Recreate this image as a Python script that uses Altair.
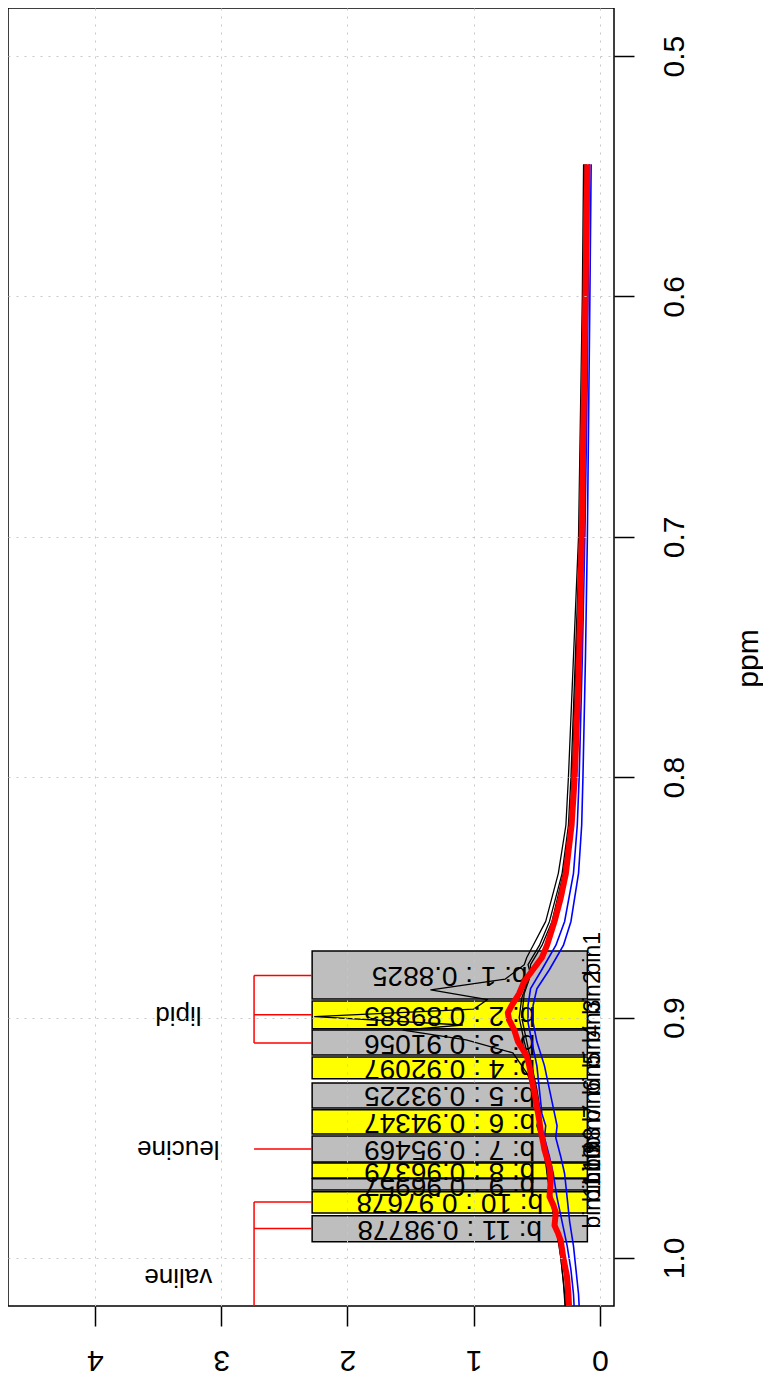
import altair as alt
import pandas as pd

FONT = "Liberation Sans"

# ---- bins (ppm) ----
bin_start = [0.8723, 0.8931, 0.9052, 0.9164, 0.9272, 0.9384, 0.9493, 0.9605, 0.9671, 0.9725, 0.9825]
bin_end = [0.8923, 0.9047, 0.9156, 0.9255, 0.9376, 0.9484, 0.9601, 0.9667, 0.9717, 0.9813, 0.9933]
bin_center = [0.8825, 0.89885, 0.91056, 0.92097, 0.93225, 0.94347, 0.95469, 0.96379, 0.96957, 0.97678, 0.98778]
bin_fill = ["#BEBEBE", "#FFFF00", "#BEBEBE", "#FFFF00", "#BEBEBE", "#FFFF00",
            "#BEBEBE", "#FFFF00", "#BEBEBE", "#FFFF00", "#BEBEBE"]
box_low, box_high = 0.10, 2.28
bin_names = ["bin%d" % (i + 1) for i in range(len(bin_center))]
bin_labels = ["b: %d : %s" % (i + 1, ("%g" % c)) for i, c in enumerate(bin_center)]

# ---- annotations ----
ann_names = ["lipid", "leucine", "valine"]
ann_ppm = [0.89885, 0.95469, 1.008]
ann_int = 3.34
bracket_x = 2.74
bracket_bins = [[0.8825, 0.89885, 0.91056], [0.95469], [0.97678, 0.98778]]
bracket_extent = [[0.8825, 0.91056], None, [0.97678, 1.04]]

# ---- spectra (ppm, intensity) ----
red_ppm = [0.545, 0.60, 0.65, 0.70, 0.75, 0.78, 0.80, 0.82, 0.84, 0.85,
           0.86, 0.87, 0.875, 0.88, 0.885, 0.89, 0.895, 0.898, 0.901, 0.905,
           0.91, 0.916, 0.92, 0.926, 0.931, 0.937, 0.943, 0.947, 0.952, 0.955,
           0.962, 0.968, 0.9745, 0.978, 0.981, 0.9865, 0.99, 0.993, 1.0, 1.008,
           1.015, 1.025]
red_int = [0.10, 0.115, 0.13, 0.145, 0.165, 0.185, 0.20, 0.225, 0.27, 0.31,
           0.36, 0.42, 0.46, 0.53, 0.60, 0.64, 0.70, 0.73, 0.72, 0.68,
           0.65, 0.58, 0.56, 0.54, 0.52, 0.50, 0.48, 0.47, 0.45, 0.44,
           0.40, 0.39, 0.40, 0.37, 0.35, 0.36, 0.33, 0.31, 0.29, 0.26,
           0.25, 0.24]

blue1_ppm = [0.545, 0.60, 0.65, 0.70, 0.75, 0.80, 0.82, 0.84, 0.86, 0.87,
             0.88, 0.888, 0.895, 0.902, 0.91, 0.92, 0.93, 0.94, 0.945, 0.95,
             0.958, 0.965, 0.975, 0.985, 0.995, 1.005, 1.015, 1.025]
blue1_int = [0.085, 0.095, 0.105, 0.12, 0.14, 0.165, 0.18, 0.21, 0.28, 0.35,
             0.46, 0.55, 0.57, 0.57, 0.54, 0.50, 0.48, 0.46, 0.43, 0.44,
             0.40, 0.37, 0.34, 0.30, 0.26, 0.23, 0.21, 0.20]

blue2_ppm = [0.545, 0.60, 0.65, 0.70, 0.75, 0.80, 0.82, 0.84, 0.86, 0.87,
             0.88, 0.888, 0.895, 0.902, 0.91, 0.92, 0.93, 0.94, 0.945, 0.95,
             0.958, 0.965, 0.975, 0.985, 0.995, 1.005, 1.015, 1.025]
blue2_int = [0.07, 0.08, 0.09, 0.10, 0.115, 0.135, 0.145, 0.17, 0.23, 0.29,
             0.40, 0.50, 0.53, 0.53, 0.50, 0.44, 0.40, 0.36, 0.34, 0.35,
             0.31, 0.28, 0.26, 0.24, 0.21, 0.19, 0.17, 0.16]

black1_ppm = [0.545, 0.60, 0.70, 0.80, 0.82, 0.84, 0.86, 0.87, 0.875, 0.878,
              0.884, 0.8885, 0.8925, 0.8965, 0.8996, 0.9031, 0.9052, 0.9093, 0.9147, 0.923,
              0.93, 0.94, 0.95, 0.96, 0.97, 0.98, 0.99, 1.0, 1.01, 1.025]
black1_int = [0.13, 0.14, 0.17, 0.25, 0.27, 0.33, 0.43, 0.53, 0.58, 0.60,
              0.75, 1.34, 0.89, 1.00, 2.26, 1.09, 1.56, 1.06, 0.69, 0.58,
              0.52, 0.50, 0.47, 0.43, 0.40, 0.37, 0.34, 0.31, 0.29, 0.27]

black2_ppm = [0.545, 0.60, 0.70, 0.80, 0.82, 0.84, 0.86, 0.87, 0.878, 0.882,
              0.886, 0.892, 0.90, 0.91, 0.92, 0.93, 0.94, 0.945, 0.95, 0.955,
              0.965, 0.975, 0.985, 0.995, 1.005, 1.015, 1.025]
black2_int = [0.12, 0.13, 0.16, 0.23, 0.25, 0.30, 0.40, 0.48, 0.57, 0.55,
              0.58, 0.62, 0.64, 0.60, 0.55, 0.52, 0.48, 0.50, 0.47, 0.44,
              0.42, 0.39, 0.36, 0.32, 0.30, 0.28, 0.27]

black3_ppm = [0.545, 0.60, 0.70, 0.80, 0.82, 0.84, 0.86, 0.87, 0.878, 0.884,
              0.89, 0.90, 0.91, 0.92, 0.93, 0.94, 0.947, 0.955, 0.965, 0.975,
              0.985, 0.995, 1.005, 1.015, 1.025]
black3_int = [0.11, 0.12, 0.155, 0.22, 0.24, 0.29, 0.38, 0.46, 0.55, 0.56,
              0.60, 0.62, 0.58, 0.54, 0.50, 0.47, 0.47, 0.43, 0.41, 0.38,
              0.35, 0.31, 0.28, 0.27, 0.26]

# ---- scales & axes ----
xscale = alt.Scale(domain=[-0.111, 4.689], reverse=True, nice=False, zero=False)
yscale = alt.Scale(domain=[0.48, 1.02], reverse=True, nice=False, zero=False)
xaxis = alt.Axis(values=[0, 1, 2, 3, 4], title=None, labelAngle=180, labelAlign="center",
                 labelBaseline="alphabetic", labelPadding=24, labelFontSize=30, labelFont=FONT,
                 labelColor="black", tickSize=20, tickWidth=1.5, tickColor="black", domain=False,
                 grid=True, gridColor="#c8c8c8", gridDash=[2, 6], gridWidth=1, zindex=1)
yaxis = alt.Axis(orient="right", values=[0.5, 0.6, 0.7, 0.8, 0.9, 1.0], format=".1f", title="ppm",
                 labelAngle=270, labelAlign="center", labelBaseline="alphabetic", labelPadding=49,
                 labelFontSize=30, labelFont=FONT, labelColor="black", tickSize=20, tickWidth=1.5,
                 tickColor="black", domain=False, grid=True, gridColor="#c8c8c8", gridDash=[2, 6],
                 gridWidth=1, zindex=1, titleAngle=270, titleAlign="center",
                 titleBaseline="alphabetic", titleX=143, titleY=650, titleFontSize=30,
                 titleFont=FONT, titleFontWeight="normal", titleColor="black")


def X(f):
    return alt.X(f, type="quantitative", scale=xscale, axis=xaxis)


def Y(f):
    return alt.Y(f, type="quantitative", scale=yscale, axis=yaxis)


# ---- tables ----
bins_df = pd.DataFrame({"start": bin_start, "end": bin_end, "center": bin_center,
                        "fill": bin_fill, "label": bin_labels, "name": bin_names})
bins_df["lo"] = box_low
bins_df["hi"] = box_high
bins_df["mid"] = (box_low + box_high) / 2
bins_df["zero"] = 0.0

series = [("black1", black1_ppm, black1_int), ("black2", black2_ppm, black2_int),
          ("black3", black3_ppm, black3_int), ("blue1", blue1_ppm, blue1_int),
          ("blue2", blue2_ppm, blue2_int), ("red", red_ppm, red_int)]
rows = []
for name, pp, ii in series:
    for p, v in zip(pp, ii):
        rows.append({"series": name, "ppm": p, "int": v})
lines_df = pd.DataFrame(rows)

hrows, vrows = [], []
for bins, ext in zip(bracket_bins, bracket_extent):
    for b in bins:
        hrows.append({"ppm": b, "x1": bracket_x, "x2": box_high})
    if ext is not None:
        vrows.append({"p1": ext[0], "p2": ext[1], "x": bracket_x})
h_df = pd.DataFrame(hrows)
v_df = pd.DataFrame(vrows)
ann_df = pd.DataFrame({"name": ann_names, "ppm": ann_ppm})
ann_df["int"] = ann_int

# ---- layers ----
boxes = alt.Chart(bins_df).mark_rect(stroke="black", strokeWidth=1.5).encode(
    x=X("lo"), x2="hi", y=Y("start"), y2="end", fill=alt.Fill("fill:N", scale=None))

box_text = alt.Chart(bins_df).mark_text(angle=180, fontSize=28, font=FONT, align="center",
                                        baseline="middle", color="black").encode(
    x=X("mid"), y=Y("center"), text="label:N")

bin_text = alt.Chart(bins_df).mark_text(angle=270, fontSize=23, font=FONT, align="left",
                                        baseline="alphabetic", color="black").encode(
    x=X("zero"), y=Y("center"), text="name:N")


def line_layer(names, color, width):
    d = lines_df[lines_df["series"].isin(names)]
    return alt.Chart(d).mark_line(color=color, strokeWidth=width, clip=True,
                                  strokeJoin="round").encode(
        x=X("int"), y=Y("ppm"), detail="series:N", order=alt.Order("ppm:Q"))


blacks = line_layer(["black1", "black2", "black3"], "black", 1.3)
blues = line_layer(["blue1", "blue2"], "#0000FF", 1.6)
red = line_layer(["red"], "#FF0000", 6)

hrules = alt.Chart(h_df).mark_rule(color="#FF0000", strokeWidth=1.5, clip=True).encode(
    x=X("x1"), x2="x2", y=Y("ppm"))
vrules = alt.Chart(v_df).mark_rule(color="#FF0000", strokeWidth=1.5, clip=True).encode(
    x=X("x"), y=Y("p1"), y2="p2")

ann_text = alt.Chart(ann_df).mark_text(angle=180, fontSize=26, font=FONT, align="center",
                                       baseline="middle", color="black").encode(
    x=X("int"), y=Y("ppm"), text="name:N")

chart = alt.layer(boxes, box_text, blacks, blues, red, hrules, vrules, ann_text, bin_text).properties(
    width=606, height=1298, padding={"left": 0, "top": 0, "right": 0, "bottom": 2}
).configure_view(stroke="black", strokeWidth=1.5)

chart.save("out.html", embed_options={"renderer": "svg", "actions": False})
